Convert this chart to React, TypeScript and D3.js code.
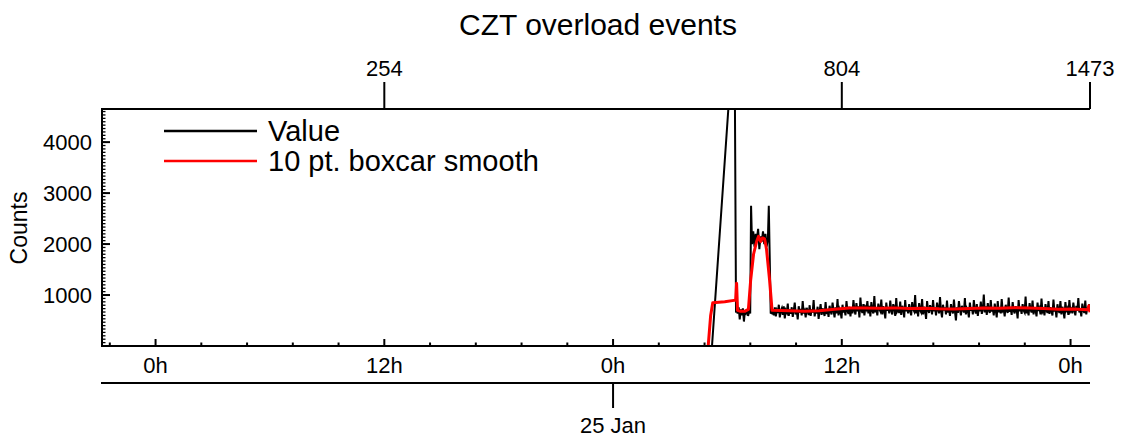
import React from 'react';
import * as d3 from 'd3';

// ---------- text ----------
const TITLE = 'CZT overload events';
const Y_LABEL = 'Counts';
const SERIES_NAMES = ['Value', '10 pt. boxcar smooth'];

// ---------- time frame (hours from 24 Jan 00:00 UTC) ----------
const REF_DAY_MS = Date.UTC(2014, 0, 24);
const X_START_H = -2.81;
const X_END_H = 49.02;
const Y_MAX = 4650;
const Y_TICKS = [1000, 2000, 3000, 4000];
const Y_MINOR_PER_MAJOR = 15;
const X_MAJOR_STEP_H = 12;
const X_MINOR_STEP_H = 2.4;

// top axis: sample index
const INDEX_TICK_LABELS = ['254', '804', '1473'];
const INDEX_TICK_HOURS = [12, 36, 49.02];

// second (date) axis
const DATE_TICK_LABELS = ['25 Jan'];
const DATE_TICK_HOURS = [24];

// ---------- Value series ----------
const valueLeadIn: [number, number][] = [
  [-2.81, 0], [12, 0], [29.19, 0], [30.37, 6400], [30.45, 690],
];
const earlyNoiseStartH = 30.48;
const earlyNoiseStepH = 0.055;
const earlyNoise = [700, 640, 760, 520, 720, 600, 740, 480, 700, 650, 720, 590, 690, 640];
const firstSpike: [number, number] = [31.24, 2750];
const plateauStartH = 31.29;
const plateauStepH = 0.064;
const plateau = [2000, 2250, 1950, 2200, 2100, 2300, 1900, 2150, 2050, 2250, 2000, 2200, 1950, 2100];
const secondSpike: [number, number] = [32.17, 2750];
const dropPoint: [number, number] = [32.27, 650];
const mainNoiseStartH = 32.33;
const mainNoiseStepH = 0.0522;
const mainNoise = [
  640, 720, 600, 760, 580, 700, 650, 810, 560, 690, 740, 610, 780, 540, 700, 660, 830, 590, 720, 630,
  760, 570, 690, 850, 620, 700, 520, 780, 650, 730, 600, 880, 640, 690, 560, 750, 680, 610, 800, 590,
  720, 660, 900, 580, 700, 640, 770, 530, 690, 820, 610, 740, 660, 590, 860, 630, 710, 570, 790, 680,
  620, 850, 700, 560, 760, 640, 920, 600, 730, 680, 540, 810, 660, 720, 600, 880, 690, 630, 770, 580,
  760, 640, 900, 700, 620, 840, 680, 780, 560, 950, 700, 650, 820, 600, 760, 720, 880, 640, 790, 580,
  860, 700, 640, 980, 660, 760, 600, 830, 720, 680, 910, 620, 780, 700, 540, 850, 690, 760, 640, 890,
  700, 620, 820, 760, 590, 940, 680, 720, 650, 870, 610, 790, 730, 560, 900, 680, 750, 640, 820, 700,
  600, 860, 720, 680, 1000, 640, 760, 580, 840, 700, 660, 920, 620, 770, 690, 530, 880, 710, 650, 800,
  740, 620, 900, 680, 760, 600, 850, 720, 640, 960, 690, 560, 810, 700, 760, 620, 890, 660, 730, 590,
  820, 700, 640, 910, 680, 500, 760, 650, 880, 720, 600, 790, 710, 660, 940, 620, 740, 700, 560, 850,
  690, 760, 620, 900, 700, 640, 820, 590, 750, 680, 870, 630, 720, 1010, 660, 780, 610, 840, 700, 650,
  900, 680, 740, 600, 830, 700, 560, 880, 660, 760, 640, 920, 690, 720, 580, 810, 700, 650, 950, 670,
  740, 610, 860, 700, 640, 780, 720, 540, 900, 680, 760, 630, 820, 700, 660, 970, 640, 750, 600, 840,
  710, 660, 890, 620, 760, 700, 580, 850, 690, 740, 620, 930, 670, 710, 600, 820, 700, 650, 880, 630,
  760, 690, 600, 910, 680, 740, 560, 820, 700, 650, 880, 620, 770, 690, 540, 860, 700, 740, 610, 900,
  680, 720, 640, 850, 700, 600, 790, 690, 940, 660, 720, 580, 830, 700, 650, 890, 620, 760, 700, 820,
];

// ---------- 10 pt boxcar smooth series ----------
const smoothSeries: [number, number][] = [
  [28.99, 0], [29.12, 600], [29.23, 850], [29.86, 870], [30.43, 900], [30.48, 1230], [30.53, 700],
  [30.69, 680], [30.90, 680], [31.10, 720], [31.22, 1300], [31.37, 1800], [31.53, 2050], [31.63, 2150],
  [31.74, 2050], [31.84, 2120], [31.95, 2100], [32.05, 1900], [32.21, 1300], [32.34, 700],
  [33.25, 690], [34.04, 680], [34.82, 690], [35.61, 720], [36.39, 745], [37.18, 745], [37.96, 740],
  [38.74, 748], [39.53, 735], [40.31, 742], [41.10, 730], [41.88, 728], [42.67, 736], [43.45, 746],
  [44.23, 740], [45.02, 750], [45.80, 745], [46.59, 736], [47.37, 722], [48.16, 726], [48.90, 712],
  [48.96, 790], [49.02, 660],
];

const hToDate = (h: number) => new Date(REF_DAY_MS + h * 3600 * 1000);
const seq = (startH: number, stepH: number, vals: number[]): [number, number][] =>
  vals.map((v, i) => [startH + i * stepH, v]);

const valueSeries: [number, number][] = [
  ...valueLeadIn,
  ...seq(earlyNoiseStartH, earlyNoiseStepH, earlyNoise),
  firstSpike,
  ...seq(plateauStartH, plateauStepH, plateau),
  secondSpike,
  dropPoint,
  ...seq(mainNoiseStartH, mainNoiseStepH, mainNoise),
];

const FONT = "'Liberation Sans', Arial, Helvetica, sans-serif";

export default function App() {
  const W = 1124;
  const H = 440;
  const left = 102, right = 1090, top = 109, bottom = 346;
  const dateAxisY = 383;
  const TICK_FS = 22;

  const x = d3.scaleUtc().domain([hToDate(X_START_H), hToDate(X_END_H)]).range([left, right]);
  const y = d3.scaleLinear().domain([0, Y_MAX]).range([bottom, top]);
  const xh = (h: number) => x(hToDate(h));

  const line = d3.line<[number, number]>().x(d => xh(d[0])).y(d => y(d[1]));

  const majorX: number[] = [];
  for (let h = Math.ceil(X_START_H / X_MAJOR_STEP_H) * X_MAJOR_STEP_H; h <= X_END_H; h += X_MAJOR_STEP_H) majorX.push(h);
  const minorX: number[] = [];
  for (let k = Math.ceil(X_START_H / X_MINOR_STEP_H); k * X_MINOR_STEP_H <= X_END_H; k++) {
    if (k % 5 !== 0) minorX.push(k * X_MINOR_STEP_H);
  }
  const fmtHour = (h: number) => `${d3.utcHour(hToDate(h)).getUTCHours()}h`;

  const minorY: number[] = [];
  const yStep = 1000 / Y_MINOR_PER_MAJOR;
  for (let v = yStep; v < Y_MAX; v += yStep) minorY.push(v);

  return (
    <svg width={W} height={H} style={{ position: 'absolute', left: 0, top: 0, background: '#fff' }} fontFamily={FONT}>
      <defs>
        <clipPath id="plotClip">
          <rect x={left} y={top} width={right - left} height={bottom - top} />
        </clipPath>
      </defs>
      <rect x={0} y={0} width={W} height={H} fill="#fff" />

      <text x={(left + right) / 2 + 2} y={35} textAnchor="middle" fontSize={30} fill="#000">{TITLE}</text>

      {/* data */}
      <g clipPath="url(#plotClip)">
        <path d={line(valueSeries) || ''} fill="none" stroke="#000" strokeWidth={2} strokeLinejoin="miter" />
        <path d={line(smoothSeries) || ''} fill="none" stroke="#ff0000" strokeWidth={3} strokeLinejoin="round" />
      </g>

      {/* legend */}
      <line x1={164} x2={257} y1={131} y2={131} stroke="#000" strokeWidth={2.5} />
      <text x={268} y={141} fontSize={29} fill="#000">{SERIES_NAMES[0]}</text>
      <line x1={164} x2={257} y1={161} y2={161} stroke="#ff0000" strokeWidth={2.5} />
      <text x={268} y={171} fontSize={29} fill="#000">{SERIES_NAMES[1]}</text>

      {/* y axis */}
      <line x1={left} x2={left} y1={top - 1} y2={bottom + 1} stroke="#000" strokeWidth={2} />
      {minorY.map((v, i) => (
        <line key={'ym' + i} x1={left} x2={left + 3.5} y1={y(v)} y2={y(v)} stroke="#000" strokeWidth={1.3} />
      ))}
      {Y_TICKS.map(v => (
        <g key={'y' + v}>
          <line x1={left} x2={left + 8} y1={y(v)} y2={y(v)} stroke="#000" strokeWidth={2} />
          <text x={92} y={y(v)} dy="0.36em" textAnchor="end" fontSize={TICK_FS} fill="#000">{v}</text>
        </g>
      ))}
      <text transform={`translate(27,228) rotate(-90)`} textAnchor="middle" fontSize={23} fill="#000">{Y_LABEL}</text>

      {/* top axis */}
      <line x1={left - 1} x2={right} y1={top} y2={top} stroke="#000" strokeWidth={2} />
      {INDEX_TICK_HOURS.map((h, i) => (
        <g key={'t' + i}>
          <line x1={xh(h)} x2={xh(h)} y1={top} y2={top - 27} stroke="#000" strokeWidth={2} />
          <text x={xh(h)} y={76} textAnchor="middle" fontSize={TICK_FS} fill="#000">{INDEX_TICK_LABELS[i]}</text>
        </g>
      ))}

      {/* bottom time axis */}
      <line x1={left - 1} x2={right} y1={bottom} y2={bottom} stroke="#000" strokeWidth={2} />
      {minorX.map((h, i) => (
        <line key={'xm' + i} x1={xh(h)} x2={xh(h)} y1={bottom} y2={bottom - 3.5} stroke="#000" strokeWidth={2} />
      ))}
      {majorX.map((h, i) => (
        <g key={'xM' + i}>
          <line x1={xh(h)} x2={xh(h)} y1={bottom} y2={bottom - 7} stroke="#000" strokeWidth={2} />
          <text x={xh(h)} y={373} textAnchor="middle" fontSize={TICK_FS} fill="#000">{fmtHour(h)}</text>
        </g>
      ))}

      {/* date axis */}
      <line x1={left - 1} x2={right} y1={dateAxisY} y2={dateAxisY} stroke="#000" strokeWidth={2} />
      {DATE_TICK_HOURS.map((h, i) => (
        <g key={'d' + i}>
          <line x1={xh(h)} x2={xh(h)} y1={dateAxisY} y2={dateAxisY + 25} stroke="#000" strokeWidth={2} />
          <text x={xh(h)} y={433} textAnchor="middle" fontSize={TICK_FS} fill="#000">{DATE_TICK_LABELS[i]}</text>
        </g>
      ))}
    </svg>
  );
}
